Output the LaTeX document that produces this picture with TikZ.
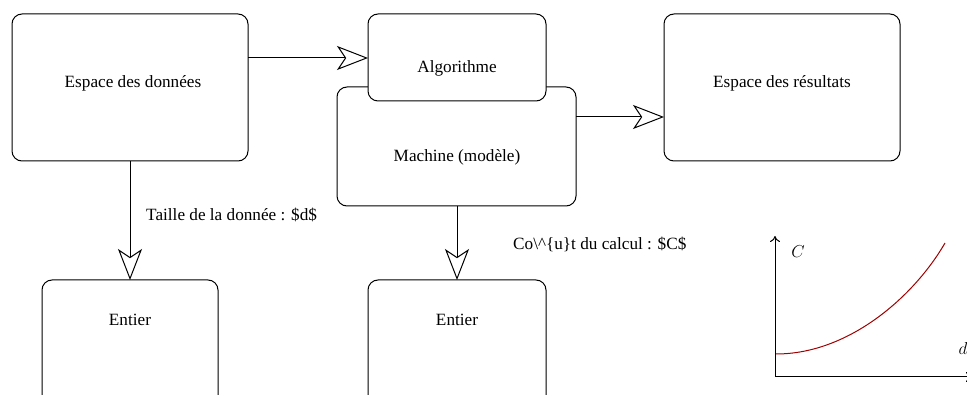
\documentclass[tikz,border=0pt]{standalone}
\usepackage{fontspec}
\setmainfont{Liberation Serif}
\usetikzlibrary{arrows.meta}
\definecolor{curvered}{RGB}{160,0,0}
\tikzset{
  box/.style={draw, line width=1pt, rounded corners=10pt, fill=white, inner sep=0pt},
  lbl/.style={font=\fontsize{17.2}{20}\selectfont, inner sep=0pt},
  flow/.style={line width=1pt, -{Stealth[open, length=31pt, width=24pt, inset=8pt, line width=1pt]}},
  axis/.style={line width=1pt, -{To[length=6pt, width=10pt]}},
}
\begin{document}
\begin{tikzpicture}[x=1pt, y=-1pt]
\useasboundingbox (0,0) rectangle (967,395);
% boxes
\path[box] (12,14) rectangle (248,161);
\node[lbl] (ed) at (133,83) {Espace des données};
\coordinate (edR) at (248,58);
\coordinate (edB) at (130,161);

\path[box] (337,87) rectangle (576,206);
\node[lbl] (ma) at (457,157) {Machine (modèle)};
\coordinate (maR) at (576,117);
\coordinate (maB) at (457,206);

\path[box] (368,14) rectangle (546,101);
\node[lbl] (al) at (457,68) {Algorithme};
\coordinate (alL) at (368,58);

\path[box] (664,14) rectangle (900,161);
\node[lbl] (er) at (782,83) {Espace des résultats};
\coordinate (erL) at (664,117);

\path[box] (42,280) rectangle (218,410);
\node[lbl] (e1) at (130,320) {Entier};
\coordinate (e1T) at (130,280);

\path[box] (368,280) rectangle (546,410);
\node[lbl] (e2) at (457,320) {Entier};
\coordinate (e2T) at (457,280);

% arrows
\draw[flow] (edR) -- (alL);
\draw[flow] (maR) -- (erL);
\draw[flow] (edB) -- (e1T);
\draw[flow] (maB) -- (e2T);

\node[lbl, anchor=west] (t1) at (146,215) {Taille de la donnée : \$d\$};
\node[lbl, anchor=west] (t2) at (513,244) {Co\textbackslash\textasciicircum\{u\}t du calcul : \$C\$};

% graph
\coordinate (O) at (775,377);
\coordinate (Yt) at (775,236);
\coordinate (Xr) at (972,377);
\draw[axis] (O) -- (Yt);
\draw[axis] (O) -- (Xr);
\node[lbl] (C) at (798,252) {$C$};
\node[lbl] (d) at (963,349) {$d$};
\draw[curvered, line width=1pt] (776,354) .. controls (850,354) and (915,295) .. (945,243);
\end{tikzpicture}
\end{document}
